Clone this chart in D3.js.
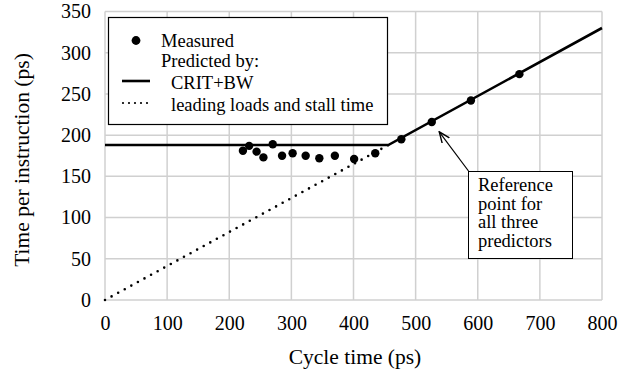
<!DOCTYPE html>
<html>
<head>
<meta charset="utf-8">
<script src="https://cdn.jsdelivr.net/npm/d3@7"></script>
<style>
  body { margin: 0; background: #fff; }
  text { font-family: "Liberation Serif", "Times New Roman", serif; fill: #000; }
</style>
</head>
<body>
<script>
  // measured points
  let measuredX = [222, 232, 244, 255, 270, 285, 302, 323, 345, 370, 401, 435, 477, 526, 589, 667];
  let measuredY = [181, 187, 180, 173, 189, 175, 178, 175, 172, 175, 171, 178, 195, 216, 242, 274];

  // predictor lines
  let critX = [0, 456, 800];
  let critY = [188, 188, 330];
  let leadX = [0, 456];
  let leadY = [0, 188];

  let xTicks = [0, 100, 200, 300, 400, 500, 600, 700, 800];
  let yTicks = [0, 50, 100, 150, 200, 250, 300, 350];

  let noteLines = ["Reference", "point for", "all three", "predictors"];

  let svg = d3.select('body').append('svg')
    .attr('width', 621)
    .attr('height', 371);

  let x = d3.scaleLinear().domain([0, 800]).range([105, 602]);
  let y = d3.scaleLinear().domain([0, 350]).range([300, 11.5]);

  // grid lines
  svg.append('g').selectAll('line')
    .data(xTicks).enter().append('line')
      .attr('x1', (d) => x(d)).attr('x2', (d) => x(d))
      .attr('y1', y(0)).attr('y2', y(350))
      .attr('stroke', '#d0d0d0').attr('stroke-width', 1.5);
  svg.append('g').selectAll('line')
    .data(yTicks).enter().append('line')
      .attr('x1', x(0)).attr('x2', x(800))
      .attr('y1', (d) => y(d)).attr('y2', (d) => y(d))
      .attr('stroke', '#d0d0d0').attr('stroke-width', 1.5);

  // axes (labels only)
  let xAxis = svg.append('g')
    .attr('transform', 'translate(0,' + y(0) + ')')
    .call(d3.axisBottom(x).tickValues(xTicks).tickSize(0).tickPadding(16));
  let yAxis = svg.append('g')
    .attr('transform', 'translate(' + x(0) + ',0)')
    .call(d3.axisLeft(y).tickValues(yTicks).tickSize(0).tickPadding(14));
  [xAxis, yAxis].forEach(function(a) {
    a.select('.domain').remove();
    a.selectAll('text')
      .style('font-family', '"Liberation Serif", serif')
      .style('font-size', '20px')
      .attr('fill', '#000');
  });

  svg.append('text')
    .attr('x', 355).attr('y', 364)
    .attr('text-anchor', 'middle')
    .style('font-size', '21.5px')
    .text('Cycle time (ps)');
  svg.append('text')
    .attr('transform', 'translate(29,160)rotate(-90)')
    .attr('text-anchor', 'middle')
    .style('font-size', '21.5px')
    .text('Time per instruction (ps)');

  // lines
  let line = d3.line()
    .x((d) => x(d[0]))
    .y((d) => y(d[1]));

  svg.append('path')
    .datum(leadX.map((v, i) => [v, leadY[i]]))
    .attr('d', line)
    .attr('fill', 'none')
    .attr('stroke', '#000')
    .attr('stroke-width', 2.6)
    .attr('stroke-linecap', 'round')
    .style('stroke-dasharray', '0, 7.5');

  svg.append('path')
    .datum(critX.map((v, i) => [v, critY[i]]))
    .attr('d', line)
    .attr('fill', 'none')
    .attr('stroke', '#000')
    .attr('stroke-width', 2.6);

  svg.append('g').selectAll('circle')
    .data(measuredX).enter().append('circle')
      .attr('cx', (d) => x(d))
      .attr('cy', (d, i) => y(measuredY[i]))
      .attr('r', 4.2)
      .attr('fill', '#000');

  // legend
  let lg = svg.append('g');
  lg.append('rect')
    .attr('x', 108.5).attr('y', 17.5)
    .attr('width', 279).attr('height', 107)
    .attr('fill', '#fff')
    .attr('stroke', '#000').attr('stroke-width', 1.2);
  lg.append('circle').attr('cx', 136).attr('cy', 40.5).attr('r', 4.4).attr('fill', '#000');
  lg.append('line')
    .attr('x1', 122).attr('x2', 150).attr('y1', 81).attr('y2', 81)
    .attr('stroke', '#000').attr('stroke-width', 2.6);
  lg.append('line')
    .attr('x1', 123).attr('x2', 151).attr('y1', 103).attr('y2', 103)
    .attr('stroke', '#000').attr('stroke-width', 2.2)
    .attr('stroke-linecap', 'round')
    .style('stroke-dasharray', '0, 6');
  let legendText = [
    ['Measured', 161, 46.5],
    ['Predicted by:', 161, 67],
    ['CRIT+BW', 171, 89],
    ['leading loads and stall time', 171, 110.5]
  ];
  lg.selectAll('text.leg')
    .data(legendText).enter().append('text')
      .attr('class', 'leg')
      .attr('x', (d) => d[1])
      .attr('y', (d) => d[2])
      .style('font-size', '18.5px')
      .text((d) => d[0]);

  // annotation
  svg.append('defs').append('marker')
    .attr('id', 'arrow')
    .attr('viewBox', '0 0 12 10')
    .attr('refX', 11).attr('refY', 5)
    .attr('markerWidth', 12).attr('markerHeight', 10)
    .attr('markerUnits', 'userSpaceOnUse')
    .attr('orient', 'auto')
    .append('path')
      .attr('d', 'M0,0.5 L11,5 L0,9.5')
      .attr('fill', 'none')
      .attr('stroke', '#000')
      .attr('stroke-width', 1.4);

  svg.append('line')
    .attr('x1', 468.5).attr('y1', 171)
    .attr('x2', x(538)).attr('y2', y(204))
    .attr('stroke', '#000').attr('stroke-width', 1.2)
    .attr('marker-end', 'url(#arrow)');

  svg.append('rect')
    .attr('x', 468.5).attr('y', 171.5)
    .attr('width', 104).attr('height', 87)
    .attr('fill', '#fff')
    .attr('stroke', '#000').attr('stroke-width', 1);

  svg.selectAll('text.note')
    .data(noteLines).enter().append('text')
      .attr('class', 'note')
      .attr('x', 478)
      .attr('y', (d, i) => 191 + i * 18.7)
      .style('font-size', '18.5px')
      .text((d) => d);
</script>
</body>
</html>
